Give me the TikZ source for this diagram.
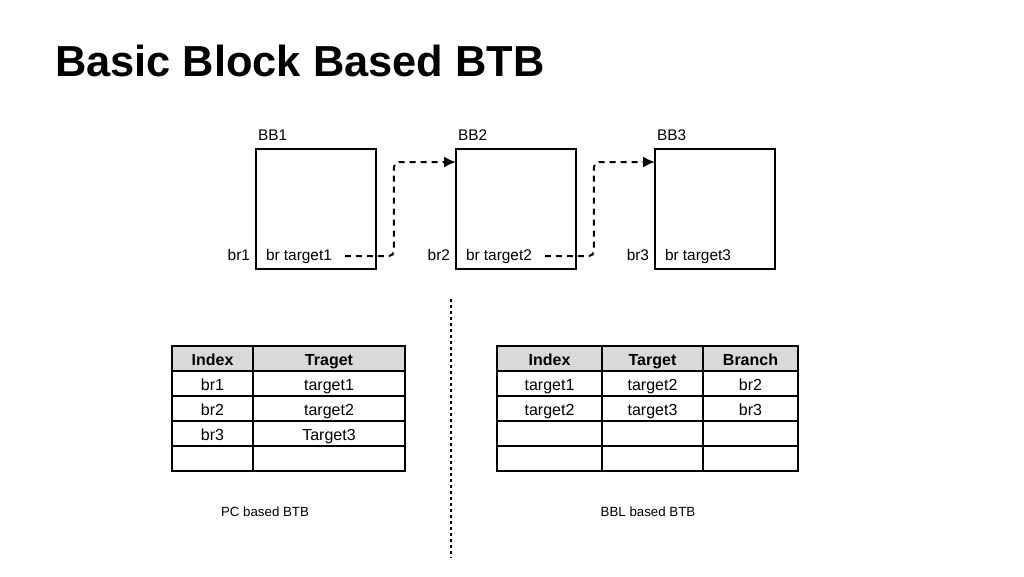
\documentclass[tikz,border=0pt]{standalone}
\usepackage{fontspec}
\setmainfont{Liberation Sans}
\usetikzlibrary{positioning,arrows.meta}
\definecolor{headgray}{RGB}{217,217,217}
\begin{document}
\begin{tikzpicture}[x=1pt,y=-1pt,inner sep=0pt,outer sep=0pt,line width=1.6pt,
bblock/.style={draw,rectangle,minimum width=120pt,minimum height=120pt},
lbl/.style={font=\fontsize{15.4}{18}\selectfont},
cell/.style={draw,rectangle,minimum height=25pt,text height=15pt,text depth=0.5pt,font=\fontsize{16}{19}\selectfont},
hcell/.style={cell,fill=headgray,font=\fontsize{16}{19}\selectfont\bfseries},
jump/.style={-{Latex[length=12pt,width=11pt]},line width=2pt,dash pattern=on 6pt off 5pt,rounded corners=5pt}]
\useasboundingbox (0,0) rectangle (1024,576);
\node[anchor=base west,font=\fontsize{43.4}{50}\selectfont\bfseries] (title) at (55,76) {Basic Block Based BTB};
% basic blocks
\node[bblock] (b1) at (316,209) {};
\node[bblock] (b2) at (516,209) {};
\node[bblock] (b3) at (715,209) {};
\node[lbl,anchor=base west] (n1) at ([shift={(2pt,9pt)}]b1.north west) {BB1};
\node[lbl,anchor=base west] (n2) at ([shift={(2pt,9pt)}]b2.north west) {BB2};
\node[lbl,anchor=base west] (n3) at ([shift={(2pt,9pt)}]b3.north west) {BB3};
\node[lbl,anchor=base east] (r1) at ([shift={(-6pt,9pt)}]b1.south west) {br1};
\node[lbl,anchor=base east] (r2) at ([shift={(-6pt,9pt)}]b2.south west) {br2};
\node[lbl,anchor=base east] (r3) at ([shift={(-6pt,9pt)}]b3.south west) {br3};
\node[lbl,anchor=base west] (t1) at ([shift={(10pt,9pt)}]b1.south west) {br target1};
\node[lbl,anchor=base west] (t2) at ([shift={(10pt,9pt)}]b2.south west) {br target2};
\node[lbl,anchor=base west] (t3) at ([shift={(10pt,9pt)}]b3.south west) {br target3};
\draw[jump] ([xshift=13pt]t1.east) -- ++(49,0) |- ([yshift=-13pt]b2.north west);
\draw[jump] ([xshift=13pt]t2.east) -- ++(49,0) |- ([yshift=-13pt]b3.north west);
% separator
\coordinate (sepTop) at (451,299);
\coordinate (sepBot) at (451,558);
\draw[line width=2pt,dash pattern=on 2.5pt off 3.5pt] (sepTop) -- (sepBot);
% PC based BTB
\node[hcell,minimum width=81pt] (pcI) at (212.5,358.5) {Index};
\node[hcell,minimum width=152pt,right=0pt of pcI] (pcT) {Traget};
\node[cell,minimum width=81pt,below=0pt of pcI] (pcI1) {br1};
\node[cell,minimum width=152pt,right=0pt of pcI1] (pcT1) {target1};
\node[cell,minimum width=81pt,below=0pt of pcI1] (pcI2) {br2};
\node[cell,minimum width=152pt,right=0pt of pcI2] (pcT2) {target2};
\node[cell,minimum width=81pt,below=0pt of pcI2] (pcI3) {br3};
\node[cell,minimum width=152pt,right=0pt of pcI3] (pcT3) {Target3};
\node[cell,minimum width=81pt,below=0pt of pcI3] (pcI4) {};
\node[cell,minimum width=152pt,right=0pt of pcI4] (pcT4) {};
\node[font=\fontsize{13.3}{16}\selectfont] (pccap) at (265,512) {PC based BTB};
% BBL based BTB
\node[hcell,minimum width=105pt] (blI) at (549.5,358.2) {Index};
\node[hcell,minimum width=101pt,right=0pt of blI] (blT) {Target};
\node[hcell,minimum width=95pt,right=0pt of blT] (blB) {Branch};
\node[cell,minimum width=105pt,below=0pt of blI] (blI1) {target1};
\node[cell,minimum width=101pt,right=0pt of blI1] (blT1) {target2};
\node[cell,minimum width=95pt,right=0pt of blT1] (blB1) {br2};
\node[cell,minimum width=105pt,below=0pt of blI1] (blI2) {target2};
\node[cell,minimum width=101pt,right=0pt of blI2] (blT2) {target3};
\node[cell,minimum width=95pt,right=0pt of blT2] (blB2) {br3};
\node[cell,minimum width=105pt,below=0pt of blI2] (blI3) {};
\node[cell,minimum width=101pt,right=0pt of blI3] (blT3) {};
\node[cell,minimum width=95pt,right=0pt of blT3] (blB3) {};
\node[cell,minimum width=105pt,below=0pt of blI3] (blI4) {};
\node[cell,minimum width=101pt,right=0pt of blI4] (blT4) {};
\node[cell,minimum width=95pt,right=0pt of blT4] (blB4) {};
\node[font=\fontsize{13.3}{16}\selectfont] (bblcap) at (648,512) {BBL based BTB};
\end{tikzpicture}
\end{document}
